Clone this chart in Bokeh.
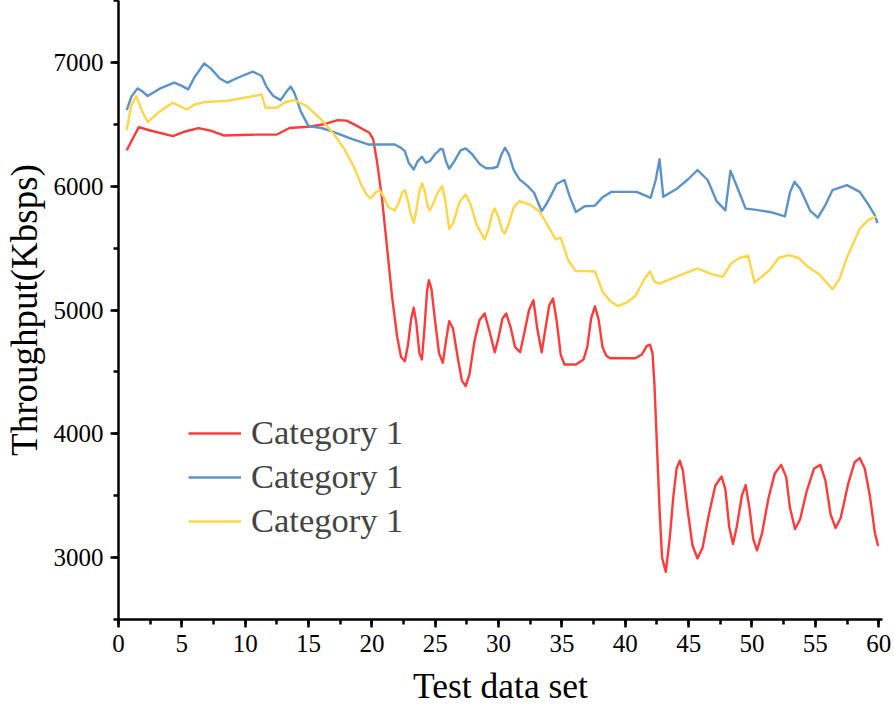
from bokeh.plotting import figure
from bokeh.models import Range1d, SingleIntervalTicker, Legend, LegendItem
from bokeh.embed import file_html
from bokeh.resources import INLINE

# ---- data ----
red_x = [0.65, 1.6, 2.5, 4.3, 5.2, 6.3, 7.2, 8.3, 10.4, 12.5, 13.5, 15.0, 16.2, 17.3, 18.0, 18.6,
         19.8, 20.1, 20.4, 20.8, 21.2, 21.6, 22.0, 22.3, 22.6, 22.85, 23.1, 23.3, 23.5, 23.75,
         23.95, 24.15, 24.35, 24.5, 24.7, 25.0, 25.3, 25.6, 25.85, 26.1, 26.4, 26.8, 27.1, 27.4,
         27.7, 28.1, 28.5, 28.9, 29.3, 29.7, 30.0, 30.3, 30.6, 30.95, 31.3, 31.7, 32.0, 32.4,
         32.75, 33.05, 33.4, 33.7, 34.0, 34.3, 34.6, 34.9, 35.2, 36.1, 36.7, 37.0, 37.3, 37.6,
         37.9, 38.2, 38.5, 38.8, 40.8, 41.3, 41.7, 41.95, 42.15, 42.3, 42.5, 42.7, 42.9, 43.2,
         43.5, 43.8, 44.05, 44.3, 44.55, 44.9, 45.3, 45.7, 46.1, 46.6, 47.1, 47.6, 47.9, 48.2,
         48.5, 48.8, 49.2, 49.5, 49.8, 50.1, 50.4, 50.8, 51.3, 51.8, 52.3, 52.7, 53.0, 53.4,
         53.8, 54.3, 54.9, 55.4, 55.8, 56.2, 56.6, 57.0, 57.6, 58.1, 58.5, 58.9, 59.3, 59.7, 59.95]
red_y = [6290, 6477, 6450, 6405, 6440, 6469, 6450, 6410, 6416, 6418, 6470, 6480, 6500, 6534, 6530, 6499,
         6432, 6380, 6200, 5900, 5500, 5100, 4780, 4620, 4586, 4720, 4930, 5018, 4900, 4650,
         4600, 4850, 5150, 5240, 5170, 4900, 4650, 4574, 4750, 4910, 4850, 4600, 4430, 4385,
         4480, 4750, 4920, 4972, 4820, 4659, 4780, 4930, 4972, 4860, 4700, 4659, 4800, 5000,
         5079, 4850, 4659, 4850, 5040, 5093, 4900, 4640, 4560, 4560, 4600, 4700, 4930, 5030,
         4920, 4700, 4630, 4610, 4610, 4640, 4710, 4720, 4650, 4400, 3900, 3400, 3000, 2885,
         3150, 3500, 3720, 3783, 3700, 3400, 3100, 2993, 3080, 3350, 3580, 3655, 3550, 3250,
         3109, 3250, 3500, 3586, 3400, 3150, 3059, 3200, 3480, 3680, 3749, 3650, 3400, 3231,
         3310, 3530, 3720, 3749, 3620, 3350, 3239, 3320, 3600, 3770, 3804, 3720, 3500, 3200, 3094]

blue_x = [0.65, 1.0, 1.5, 1.9, 2.3, 3.3, 4.4, 5.0, 5.5, 6.0, 6.76, 7.3, 8.0, 8.6, 9.5, 10.6, 11.3,
          11.7, 12.2, 12.8, 13.3, 13.6, 13.9, 14.4, 15.0, 16.0, 16.8, 18.4, 19.7, 21.8, 22.3,
          22.6, 22.9, 23.3, 23.6, 23.95, 24.25, 24.55, 25.0, 25.4, 25.6, 25.85, 26.1, 26.5, 27.0,
          27.4, 27.9, 28.5, 29.0, 29.5, 29.9, 30.2, 30.5, 30.8, 31.2, 31.65, 32.3, 32.8, 33.4,
          33.8, 34.15, 34.6, 35.2, 35.6, 36.1, 36.8, 37.6, 38.2, 38.9, 40.9, 42.0, 42.4, 42.7,
          43.0, 44.1, 45.0, 45.7, 46.5, 47.2, 47.9, 48.3, 48.8, 49.5, 50.2, 51.5, 52.6, 53.0,
          53.35, 53.8, 54.6, 55.2, 55.8, 56.35, 57.5, 58.5, 59.2, 59.7, 59.9]
blue_y = [6615, 6720, 6790, 6765, 6728, 6790, 6836, 6810, 6782, 6880, 6992, 6950, 6870, 6836, 6880, 6925, 6890,
          6800, 6730, 6695, 6770, 6804, 6750, 6600, 6485, 6470, 6445, 6383, 6337, 6337, 6310,
          6283, 6190, 6135, 6200, 6238, 6190, 6200, 6260, 6300, 6297, 6200, 6141, 6200, 6290,
          6305, 6260, 6180, 6145, 6145, 6157, 6250, 6311, 6260, 6130, 6055, 6000, 5947, 5798,
          5860, 5928, 6020, 6050, 5920, 5792, 5838, 5843, 5910, 5954, 5954, 5906, 6050, 6218,
          5914, 5982, 6060, 6131, 6050, 5880, 5805, 6126, 6000, 5819, 5811, 5790, 5757, 5950,
          6036, 5980, 5800, 5746, 5850, 5968, 6009, 5954, 5850, 5765, 5702]

yellow_x = [0.65, 1.0, 1.4, 1.8, 2.3, 3.2, 4.26, 5.4, 6.0, 6.8, 8.5, 10.0, 11.3, 11.6, 12.5, 13.2,
            13.9, 14.8, 16.0, 17.0, 17.85, 18.6, 19.2, 19.6, 19.9, 20.3, 20.6, 20.9, 21.3, 21.8,
            22.1, 22.4, 22.6, 22.85, 23.1, 23.3, 23.5, 23.75, 23.97, 24.2, 24.4, 24.55, 24.8, 25.2,
            25.55, 25.8, 26.1, 26.4, 26.9, 27.4, 27.8, 28.3, 28.9, 29.2, 29.5, 29.7, 30.0, 30.3,
            30.5, 30.8, 31.2, 31.65, 32.5, 33.2, 33.9, 34.5, 34.9, 35.5, 36.1, 36.9, 37.6,
            38.2, 38.8, 39.4, 40.1, 40.8, 41.5, 41.95, 42.3, 42.7, 44.2, 45.7, 46.8, 47.7, 48.3,
            49.0, 49.7, 50.2, 51.4, 52.1, 52.9, 53.7, 54.4, 55.3, 56.35, 56.9, 57.5, 58.5, 59.2,
            59.8]
yellow_y = [6453, 6650, 6728, 6620, 6518, 6600, 6674, 6620, 6660, 6680, 6688, 6715, 6741, 6634, 6634, 6680,
            6695, 6650, 6539, 6420, 6297, 6150, 6000, 5930, 5901, 5950, 5968, 5920, 5830, 5804,
            5860, 5950, 5968, 5880, 5760, 5705, 5800, 5960, 6022, 5950, 5840, 5804, 5850, 5950,
            6000, 5880, 5656, 5700, 5870, 5933, 5850, 5680, 5570, 5650, 5780, 5820, 5750, 5640,
            5618, 5700, 5830, 5879, 5850, 5798, 5680, 5570, 5584, 5400, 5314, 5314, 5311,
            5150, 5073, 5032, 5060, 5113, 5250, 5311, 5230, 5213, 5276, 5336, 5290, 5268, 5371,
            5420, 5439, 5222, 5323, 5420, 5444, 5420, 5349, 5289, 5167, 5250, 5425, 5655, 5730,
            5754]

series_labels = ["Category 1", "Category 1", "Category 1"]
x_title = "Test data set"
y_title = "Throughput(Kbsps)"

FONT = "Liberation Serif"

p = figure(width=892, height=715, output_backend="svg", toolbar_location=None,
           x_range=Range1d(0, 60.3), y_range=Range1d(2500, 7500),
           min_border_left=117, min_border_right=10, min_border_top=0, min_border_bottom=96)
p.outline_line_color = None
p.xgrid.visible = False
p.ygrid.visible = False
p.background_fill_color = "white"
p.border_fill_color = "white"

r1 = p.line(red_x, red_y, line_color="#FF3B3B", line_width=2.4, line_join="round")
r2 = p.line(blue_x, blue_y, line_color="#5B93C8", line_width=2.4, line_join="round")
r3 = p.line(yellow_x, yellow_y, line_color="#FFD54A", line_width=2.4, line_join="round")

p.xaxis.ticker = SingleIntervalTicker(interval=5, num_minor_ticks=2)
p.yaxis.ticker = SingleIntervalTicker(interval=1000, num_minor_ticks=2)

for ax in (p.xaxis[0], p.yaxis[0]):
    ax.axis_line_width = 2.5
    ax.axis_line_color = "black"
    ax.major_tick_line_width = 2.5
    ax.minor_tick_line_width = 2.5
    ax.major_tick_in = 0
    ax.major_tick_out = 8
    ax.minor_tick_in = 0
    ax.minor_tick_out = 5
    ax.major_label_text_font = FONT
    ax.major_label_text_font_size = "25px"
    ax.major_label_text_color = "black"
    ax.axis_label_text_font = FONT
    ax.axis_label_text_font_style = "normal"
    ax.axis_label_text_color = "black"
    ax.major_label_standoff = 7

p.xaxis.axis_label = x_title
p.yaxis.axis_label = y_title
p.xaxis.axis_label_text_font_size = "35.5px"
p.yaxis.axis_label_text_font_size = "37px"
p.xaxis.axis_label_standoff = 11
p.yaxis.axis_label_standoff = 6

legend = Legend(items=[LegendItem(label=series_labels[0], renderers=[r1]),
                       LegendItem(label=series_labels[1], renderers=[r2]),
                       LegendItem(label=series_labels[2], renderers=[r3])],
                location=(70, 79), padding=0, margin=0, spacing=5,
                glyph_width=53, glyph_height=34, label_height=34, label_standoff=10,
                label_text_font=FONT, label_text_font_size="34.5px",
                border_line_alpha=0, background_fill_alpha=0)
p.add_layout(legend)

open("out.html", "w").write(file_html(p, INLINE))
